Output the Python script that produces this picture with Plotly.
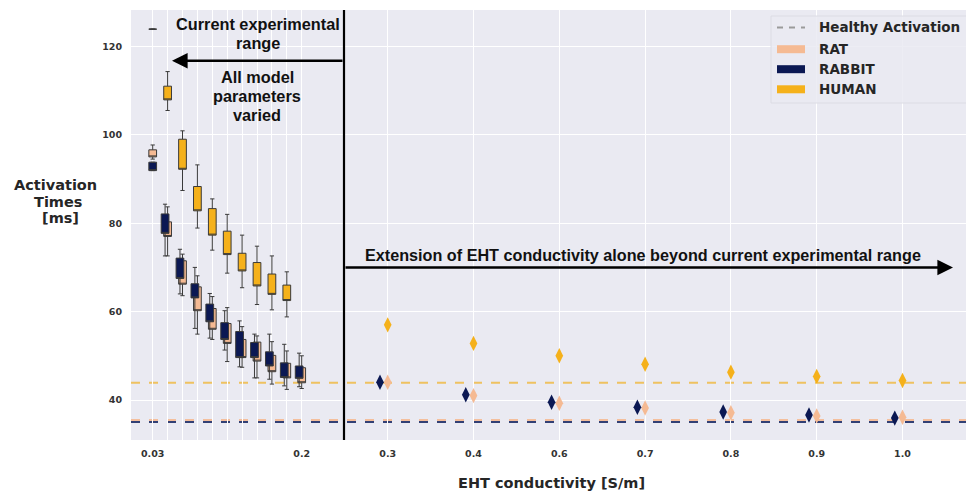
import plotly.graph_objects as go

# ---------------- data ----------------
left_labels = ['0.03', '', '', '', '', '', '', '', '', '', '0.2']
right_labels = ['0.3', '0.4', '0.6', '0.7', '0.8', '0.9', '1.0']

# box statistics (left: all model parameters varied)
human_q1 = [123.9, 107.9, 92.2, 82.8, 77.3, 72.9, 69.2, 65.8, 63.9, 62.5]
human_med = [123.9, 107.9, 92.2, 82.8, 77.3, 72.9, 69.2, 65.8, 63.9, 62.5]
human_q3 = [123.9, 111.0, 99.0, 88.3, 83.3, 78.2, 73.2, 71.1, 68.5, 66.0]
human_lo = [123.9, 105.5, 87.4, 78.9, 73.9, 68.7, 65.4, 61.6, 60.4, 58.8]
human_hi = [123.9, 114.3, 100.9, 93.2, 85.5, 82.0, 77.3, 74.8, 72.6, 69.0]

rabbit_q1 = [91.9, 77.7, 67.5, 63.1, 57.7, 53.7, 49.6, 49.6, 47.7, 45.1, 44.9]
rabbit_med = [91.9, 77.7, 67.5, 63.1, 57.7, 53.7, 49.6, 49.6, 47.7, 45.1, 44.9]
rabbit_q3 = [93.8, 82.1, 72.1, 66.3, 61.7, 57.5, 55.5, 53.0, 50.9, 48.4, 47.7]
rabbit_lo = [91.9, 72.6, 64.0, 56.2, 54.0, 51.3, 47.5, 45.0, 44.7, 43.2, 43.0]
rabbit_hi = [93.8, 84.3, 74.1, 70.0, 64.1, 60.2, 57.9, 54.9, 54.9, 52.6, 50.6]

rat_q1 = [95.0, 77.0, 66.2, 60.2, 56.0, 52.8, 49.6, 48.8, 46.4, 45.0, 43.9]
rat_med = [95.0, 77.0, 66.2, 60.2, 56.0, 52.8, 49.6, 48.8, 46.4, 45.0, 43.9]
rat_q3 = [96.6, 80.3, 71.5, 65.6, 60.7, 57.3, 53.7, 53.1, 50.1, 48.3, 47.3]
rat_lo = [94.5, 72.6, 63.6, 54.9, 53.7, 48.7, 47.4, 45.0, 43.6, 42.4, 42.6]
rat_hi = [97.7, 83.7, 73.0, 68.1, 63.4, 60.9, 56.6, 54.5, 53.2, 51.1, 50.0]

# right: EHT conductivity alone
human_right = [57.0, 52.8, 50.0, 48.1, 46.3, 45.3, 44.4]
rat_right = [44.0, 41.0, 39.25, 38.2, 37.1, 36.4, 36.1]
rabbit_right = [44.0, 41.2, 39.5, 38.35, 37.3, 36.6, 35.9]

# healthy activation times
healthy_human = 43.9
healthy_rat = 35.5
healthy_rabbit = 35.05

# ---------------- style ----------------
C_RAT = '#F5BA93'
C_RABBIT = '#0B1853'
C_HUMAN = '#F5B11B'
C_EDGE = '#3A3A3A'
BG = '#EAEAF2'
TXT = '#262626'

# the page has an 8px body margin: the figure is drawn from (8, 8) of the window
OFF = 8
WIN_W, WIN_H = 974, 493
W, H = WIN_W - OFF, WIN_H - OFF
PLOT_L, PLOT_R, PLOT_T, PLOT_B = 131, 969, 10, 440   # window pixels
L, R, T, B = PLOT_L - OFF, WIN_W - PLOT_R, PLOT_T - OFF, WIN_H - PLOT_B
PW, PH = PLOT_R - PLOT_L, PLOT_B - PLOT_T
SPLIT_PX = 344
split = (SPLIT_PX - PLOT_L) / PW

def xp(px):
    return (px - PLOT_L) / PW

def yp(py):
    return (PLOT_B - py) / PH

left_idx = list(range(len(left_labels)))
right_idx = list(range(len(right_labels)))
# dodge of the rabbit marks (first category is not dodged)
rabbit_dx_left = [0.0] + [-0.17] * (len(left_labels) - 1)
RABBIT_DX_R = -0.09
Y40_PX, PX_PER_UNIT = 400, 4.42

fig = go.Figure()

def add_box(idx, q1, med, q3, lo, hi, color, dx=None):
    if dx is None:
        dx = [0.0] * len(q1)
    fig.add_trace(go.Box(
        x=[i + d for i, d in zip(idx[:len(q1)], dx)], q1=q1, median=med, q3=q3,
        lowerfence=lo, upperfence=hi, boxpoints=False,
        fillcolor=color, line=dict(color=C_EDGE, width=1),
        width=0.52, whiskerwidth=0.55, showlegend=False, hoverinfo='skip',
        xaxis='x', yaxis='y'))

add_box(left_idx, human_q1, human_med, human_q3, human_lo, human_hi, C_HUMAN)
add_box(left_idx, rat_q1, rat_med, rat_q3, rat_lo, rat_hi, C_RAT)
add_box(left_idx, rabbit_q1, rabbit_med, rabbit_q3, rabbit_lo, rabbit_hi, C_RABBIT, rabbit_dx_left)

def add_diamonds(vals, color, dx=0.0):
    fig.add_trace(go.Scatter(
        x=[i + dx for i in right_idx], y=vals, mode='markers',
        marker=dict(symbol='diamond-tall', size=11, color=color, line=dict(width=0)),
        showlegend=False, hoverinfo='skip', xaxis='x2', yaxis='y'))

add_diamonds(human_right, C_HUMAN)
add_diamonds(rat_right, C_RAT)
add_diamonds(rabbit_right, C_RABBIT, RABBIT_DX_R)

tickfont = dict(family='DejaVu Sans', size=9.5, color='#333333', weight='bold')

fig.update_layout(
    width=W, height=H, margin=dict(l=L, r=R, t=T, b=B),
    paper_bgcolor='white', plot_bgcolor=BG, boxmode='overlay',
    showlegend=False,
    xaxis=dict(domain=[0, split], range=[-(152.7 - PLOT_L) / 14.9, (SPLIT_PX - 152.7) / 14.9],
               tickvals=left_idx, ticktext=left_labels, showgrid=True,
               gridcolor='white', gridwidth=1, zeroline=False, showline=False,
               ticks='', tickfont=tickfont, ticklabelstandoff=6, anchor='y'),
    xaxis2=dict(domain=[split, 1], range=[-(387.7 - SPLIT_PX) / 85.8, (PLOT_R - 387.7) / 85.8],
                tickvals=right_idx, ticktext=right_labels, showgrid=True,
                gridcolor='white', gridwidth=1, zeroline=False, showline=False,
                ticks='', tickfont=tickfont, ticklabelstandoff=6, anchor='y'),
    yaxis=dict(range=[40 - (PLOT_B - Y40_PX) / PX_PER_UNIT, 40 + (Y40_PX - PLOT_T) / PX_PER_UNIT],
               tickvals=[40, 60, 80, 100, 120], showgrid=True, gridcolor='white',
               gridwidth=1, zeroline=False, showline=False, ticks='',
               tickfont=tickfont, ticklabelstandoff=8, anchor='x'),
)

# healthy activation lines
for val, col in [(healthy_human, 'rgba(240,190,80,0.9)'),
                 (healthy_rat, 'rgba(245,186,147,0.9)'),
                 (healthy_rabbit, 'rgba(40,55,110,0.95)')]:
    fig.add_shape(type='line', xref='paper', yref='y', x0=0, x1=1, y0=val, y1=val,
                  line=dict(color=col, width=2, dash='dash'), layer='below')

# vertical separator
fig.add_shape(type='line', xref='paper', yref='paper', x0=split, x1=split, y0=0, y1=1,
              line=dict(color='black', width=2.2))

# arrows
fig.add_annotation(xref='paper', yref='paper', x=xp(172), y=yp(60.7), ax=SPLIT_PX - 172, ay=0,
                   axref='pixel', ayref='pixel', showarrow=True, arrowhead=2, arrowsize=1.2,
                   arrowwidth=2.6, arrowcolor='black', text='')
fig.add_annotation(xref='paper', yref='paper', x=xp(953), y=yp(267.5), ax=SPLIT_PX - 953, ay=0,
                   axref='pixel', ayref='pixel', showarrow=True, arrowhead=2, arrowsize=1.2,
                   arrowwidth=2.6, arrowcolor='black', text='')

afont = dict(family='Liberation Sans', size=16.3, color='#111111', weight='bold')
for txt, cx, cy in [('Current experimental', 257.5, 24), ('range', 257.5, 43.3),
                    ('All model', 257, 77), ('parameters', 257, 96), ('varied', 257, 115)]:
    fig.add_annotation(xref='paper', yref='paper', x=xp(cx), y=yp(cy), text=txt,
                       showarrow=False, font=afont, xanchor='center', yanchor='middle')
fig.add_annotation(xref='paper', yref='paper', x=xp(363), y=yp(255),
                   text='Extension of EHT conductivity alone beyond current experimental range',
                   showarrow=False, font=dict(family='Liberation Sans', size=16.2, color='#111111', weight='bold'),
                   xanchor='left', yanchor='middle')

# axis titles
tfont = dict(family='DejaVu Sans', size=14.5, color=TXT, weight='bold')
for txt, cx, cy in [('Activation', 55, 185), ('Times', 58.3, 201.7), ('[ms]', 60.3, 218.3)]:
    fig.add_annotation(xref='paper', yref='paper', x=xp(cx), y=yp(cy), text=txt,
                       showarrow=False, font=tfont, xanchor='center', yanchor='middle')
fig.add_annotation(xref='paper', yref='paper', x=xp(551), y=yp(482.5), text='EHT conductivity [S/m]',
                   showarrow=False, font=tfont, xanchor='center', yanchor='middle')

# legend (drawn manually)
fig.add_shape(type='rect', xref='paper', yref='paper', x0=xp(771), x1=xp(967), y0=yp(103), y1=yp(16),
              fillcolor='rgba(234,234,242,0.85)', line=dict(color='#DCDCE4', width=1))
fig.add_shape(type='line', xref='paper', yref='paper', x0=xp(777), x1=xp(805), y0=yp(27.5), y1=yp(27.5),
              line=dict(color='#9A9A9A', width=2, dash='6px,6px'))
legend_items = [('Healthy Activation', None, 27.5), ('RAT', C_RAT, 49.2),
                ('RABBIT', C_RABBIT, 69.2), ('HUMAN', C_HUMAN, 89.3)]
lfont = dict(family='DejaVu Sans', size=13.5, color=TXT, weight='bold')
for name, col, cy in legend_items:
    if col is not None:
        fig.add_shape(type='rect', xref='paper', yref='paper', x0=xp(777), x1=xp(805),
                      y0=yp(cy + 4), y1=yp(cy - 4), fillcolor=col, line=dict(width=0))
    fig.add_annotation(xref='paper', yref='paper', x=xp(816.5), y=yp(cy), text=name,
                       showarrow=False, font=lfont, xanchor='left', yanchor='middle')

fig.write_html('out.html')
